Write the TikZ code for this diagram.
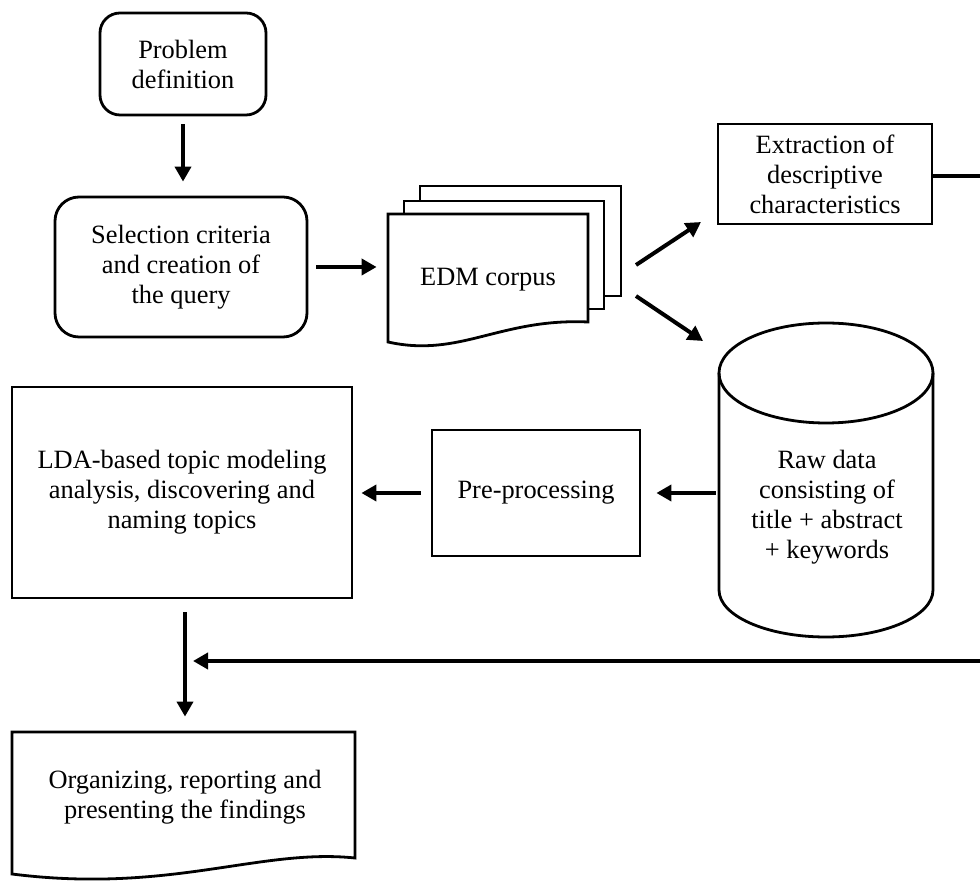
\documentclass[tikz,border=0pt]{standalone}
\usepackage{fontspec}
\setmainfont{Liberation Serif}
\usetikzlibrary{arrows.meta}
\begin{document}
\begin{tikzpicture}[x=0.5pt,y=-0.5pt,
  line width=1.4pt,
  txt/.style={font=\fontsize{13.2}{15}\selectfont, align=center, inner sep=0pt},
  rbox/.style={txt, draw, rounded corners=10pt},
  sbox/.style={txt, draw},
  ghost/.style={inner sep=0pt},
  arr/.style={line width=2pt, -{Triangle[length=7.5pt,width=8pt]}},
]
\useasboundingbox (0,0) rectangle (980,886);

% Problem definition
\node[rbox, minimum width=83pt, minimum height=51pt] (prob) at (183,64) {Problem\\definition};
% Selection criteria
\node[rbox, rounded corners=12pt, minimum width=126pt, minimum height=70pt] (sel) at (181,267) {Selection criteria\\and creation of\\the query};

% EDM corpus stack
\draw[fill=white] (420,186) rectangle (621,296);
\draw[fill=white] (404,201) rectangle (604,309);
\draw[fill=white] (388,214) -- (588,214) -- (588,322) .. controls (500,318) and (460,358) .. (388,342) -- cycle;
\node[ghost, minimum width=100pt, minimum height=64pt] (edm) at (488,278) {};
\node[txt] (edmtxt) at (488,280) {EDM corpus};

% Extraction
\node[sbox, minimum width=107pt, minimum height=50pt] (ext) at (825,174) {Extraction of\\descriptive\\characteristics};

% Cylinder
\draw[fill=white] (719,373) -- (719,590) arc[start angle=180,end angle=360,x radius=53.5pt,y radius=23.5pt] -- (933,373);
\draw (826,373) ellipse [x radius=53.5pt, y radius=25pt];
\node[ghost, minimum width=107pt, minimum height=157pt] (raw) at (826,480) {};
\node[txt] (rawtxt) at (827,507) {Raw data\\consisting of\\title + abstract\\+ keywords};

% Pre-processing
\node[sbox, minimum width=104pt, minimum height=63pt] (pre) at (536,493) {Pre-processing};
% LDA
\node[sbox, minimum width=170pt, minimum height=105.5pt] (lda) at (182,492.5) {LDA-based topic modeling\\analysis, discovering and\\naming topics};

% Bottom document
\draw (12,732) -- (355,732) -- (355,858) .. controls (260,848) and (170,894) .. (12,874) -- cycle;
\node[ghost, minimum width=171.5pt, minimum height=71pt] (org) at (183.5,803) {};
\node[txt] (orgtxt) at (185,797) {Organizing, reporting and\\presenting the findings};

% coordinates for free ends
\coordinate (e1) at (636,265);
\coordinate (e2) at (701,222);
\coordinate (r1) at (636,296);
\coordinate (r2) at (703,341);
\coordinate (rt) at (980,176);
\coordinate (rb) at (980,661);
\coordinate (jn) at (193,661);

% connectors
\draw[arr, shorten <=4pt, shorten >=7pt] (prob.south) -- (prob.south |- sel.north);
\draw[arr, shorten <=4pt, shorten >=5pt] (sel.east) -- (sel.east -| edm.west);
\draw[arr] (e1) -- (e2);
\draw[arr] (r1) -- (r2);
\draw[line width=2pt] (ext.east |- rt) -- (rt);
\draw[arr, shorten <=1pt, shorten >=7.5pt] (raw.west |- pre.east) -- (pre.east);
\draw[arr, shorten <=5pt, shorten >=4pt] (pre.west) -- (pre.west -| lda.east);
\draw[arr, shorten <=6.5pt, shorten >=7pt] (lda.south -| orgtxt) -- (org.north -| orgtxt);
\draw[arr] (rb) -- (jn);
\end{tikzpicture}
\end{document}
